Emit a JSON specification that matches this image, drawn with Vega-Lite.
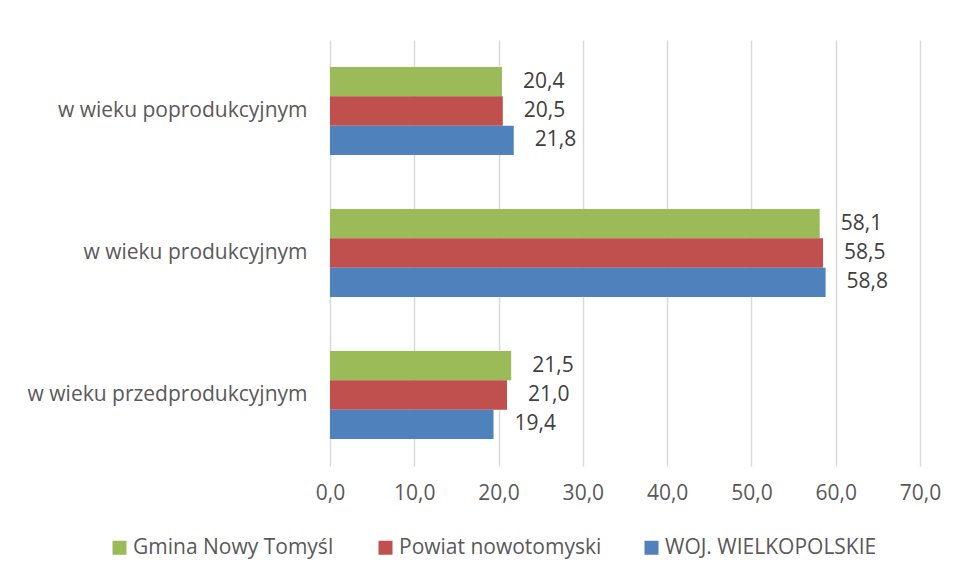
{
  "$schema": "https://vega.github.io/schema/vega-lite/v6.json",
  "autosize": "none",
  "width": 590,
  "height": 426,
  "padding": {"left": 330, "top": 40, "right": 34, "bottom": 113},
  "background": "white",
  "config": {
    "locale": {"number": {"decimal": ",", "thousands": " ", "grouping": [3], "currency": ["", " zł"]}},
    "font": "Open Sans",
    "view": {"stroke": null}
  },
  "data": {
    "values": [
      {"kategoria": "w wieku poprodukcyjnym", "seria": "Gmina Nowy Tomyśl", "wartosc": 20.4},
      {"kategoria": "w wieku poprodukcyjnym", "seria": "Powiat nowotomyski", "wartosc": 20.5},
      {"kategoria": "w wieku poprodukcyjnym", "seria": "WOJ. WIELKOPOLSKIE", "wartosc": 21.8},
      {"kategoria": "w wieku produkcyjnym", "seria": "Gmina Nowy Tomyśl", "wartosc": 58.1},
      {"kategoria": "w wieku produkcyjnym", "seria": "Powiat nowotomyski", "wartosc": 58.5},
      {"kategoria": "w wieku produkcyjnym", "seria": "WOJ. WIELKOPOLSKIE", "wartosc": 58.8},
      {"kategoria": "w wieku przedprodukcyjnym", "seria": "Gmina Nowy Tomyśl", "wartosc": 21.5},
      {"kategoria": "w wieku przedprodukcyjnym", "seria": "Powiat nowotomyski", "wartosc": 21.0},
      {"kategoria": "w wieku przedprodukcyjnym", "seria": "WOJ. WIELKOPOLSKIE", "wartosc": 19.4}
    ]
  },
  "encoding": {
    "y": {
      "field": "kategoria",
      "type": "nominal",
      "sort": ["w wieku poprodukcyjnym", "w wieku produkcyjnym", "w wieku przedprodukcyjnym"],
      "scale": {"paddingInner": 0.38, "paddingOuter": 0.19},
      "axis": {
        "title": null,
        "ticks": false,
        "domain": false,
        "labelFontSize": 21,
        "labelColor": "#595959",
        "labelPadding": 23,
        "labelLimit": 400
      }
    },
    "yOffset": {
      "field": "seria",
      "type": "nominal",
      "sort": ["Gmina Nowy Tomyśl", "Powiat nowotomyski", "WOJ. WIELKOPOLSKIE"],
      "scale": {"paddingInner": 0, "paddingOuter": 0}
    },
    "x": {
      "field": "wartosc",
      "type": "quantitative",
      "scale": {"domain": [0, 70], "nice": false},
      "axis": {
        "title": null,
        "format": ".1f",
        "values": [0, 10, 20, 30, 40, 50, 60, 70],
        "ticks": false,
        "domain": false,
        "grid": true,
        "gridColor": "#d9d9d9",
        "gridWidth": 1.5,
        "labelFlush": false,
        "labelFontSize": 21,
        "labelColor": "#595959",
        "labelPadding": 16
      }
    }
  },
  "layer": [
    {
      "mark": {"type": "bar"},
      "encoding": {
        "color": {
          "field": "seria",
          "type": "nominal",
          "sort": ["Gmina Nowy Tomyśl", "Powiat nowotomyski", "WOJ. WIELKOPOLSKIE"],
          "scale": {"range": ["#9BBB59", "#C0504D", "#4F81BD"]},
          "legend": {
            "title": null,
            "orient": "none",
            "direction": "horizontal",
            "legendX": -221,
            "legendY": 497,
            "columns": 3,
            "gridAlign": "all",
            "columnPadding": 30,
            "padding": 0,
            "symbolType": "square",
            "symbolSize": 196,
            "symbolStrokeWidth": 0,
            "symbolOpacity": 1,
            "labelFontSize": 21,
            "labelColor": "#595959",
            "labelOffset": 3,
            "labelLimit": 400
          }
        }
      }
    },
    {
      "mark": {"type": "text", "align": "left", "baseline": "middle", "dx": 21, "fontSize": 21, "color": "#404040"},
      "encoding": {
        "text": {"field": "wartosc", "type": "quantitative", "format": ".1f"}
      }
    }
  ]
}
